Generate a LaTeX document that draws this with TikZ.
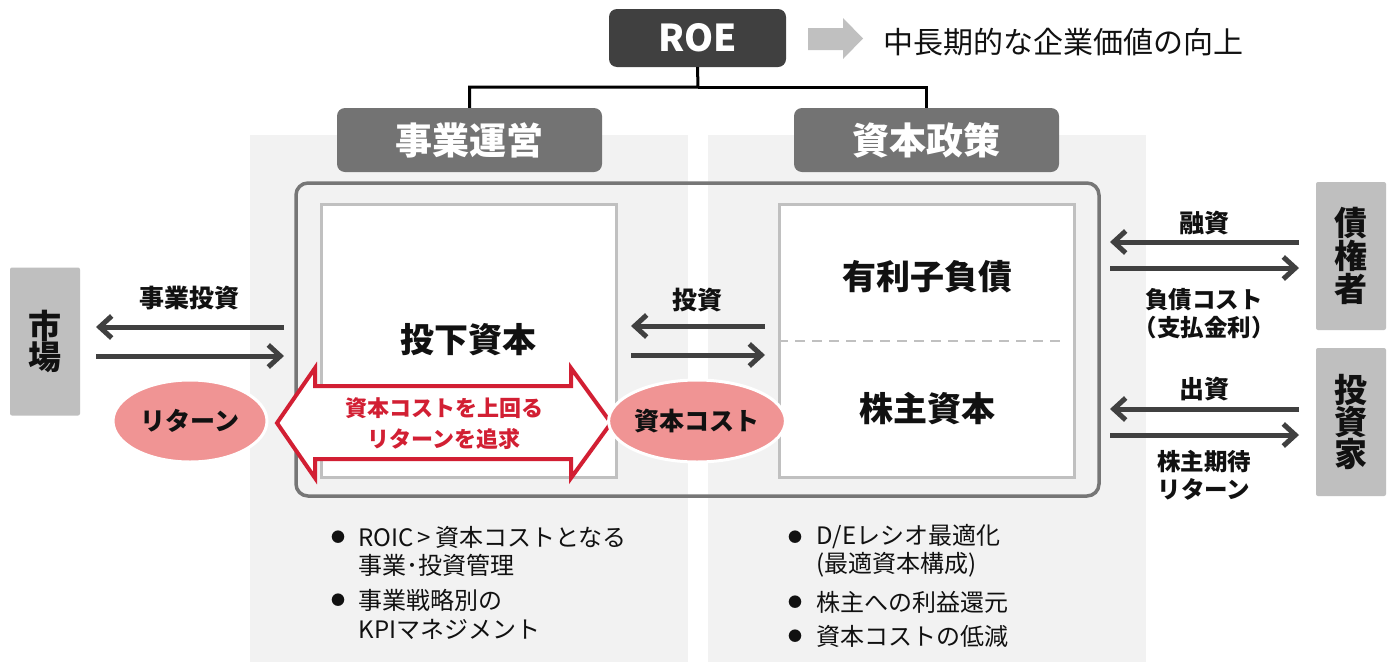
\documentclass[tikz,border=0pt]{standalone}
\usepackage{fontspec}
\setmainfont{Noto Sans CJK JP}
\usetikzlibrary{arrows.meta,shapes.geometric}
\definecolor{roegray}{HTML}{404040}
\definecolor{hdrgray}{HTML}{737373}
\definecolor{boxgray}{HTML}{BFBFBF}
\definecolor{panelgray}{HTML}{F2F2F2}
\definecolor{framegray}{HTML}{767676}
\definecolor{innergray}{HTML}{C0C0C0}
\definecolor{arrowgray}{HTML}{404040}
\definecolor{lightarr}{HTML}{C0C0C0}
\definecolor{pinkfill}{HTML}{F09494}
\definecolor{goalred}{HTML}{D21F33}
\definecolor{txt}{HTML}{111111}
\begin{document}
\begin{tikzpicture}[x=1pt,y=-1pt,
  hdr/.style={fill=hdrgray, rounded corners=8pt, minimum width=265pt, minimum height=64pt, inner sep=0pt, text=white, font=\bfseries\fontsize{37}{40}\selectfont},
  side/.style={fill=boxgray, rounded corners=2pt, minimum width=70pt, minimum height=148pt, inner sep=0pt, align=center, text=txt, font=\bfseries\fontsize{33}{30}\selectfont},
  capbox/.style={draw=innergray, line width=3pt, fill=white, inner sep=0pt, minimum width=295pt, minimum height=273pt},
  big/.style={font=\bfseries\fontsize{34}{38}\selectfont, text=txt},
  lbl/.style={font=\bfseries\fontsize{25}{28}\selectfont, text=txt, align=center},
  flow/.style={draw=arrowgray, line width=5pt, -{Straight Barb[length=12pt,width=22pt]}},
  oval/.style={ellipse, fill=pinkfill, draw=white, line width=3pt, minimum width=154pt, minimum height=82pt, inner sep=0pt, text=txt, font=\bfseries\fontsize{25}{28}\selectfont},
  bul/.style={font=\fontsize{14}{16}\selectfont, text=txt},
  btxt/.style={font=\fontsize{24}{28}\selectfont, text=txt, anchor=west},
  conn/.style={draw=black, line width=3pt}
]
\useasboundingbox (0,0) rectangle (1392,662);
\fill[white] (0,0) rectangle (1392,662);
% panels
\fill[panelgray] (250,135) rectangle (688,662);
\fill[panelgray] (708,135) rectangle (1146,662);

% top
\node[fill=roegray, rounded corners=8pt, minimum width=177pt, minimum height=58pt, inner sep=0pt, text=white, font=\bfseries\fontsize{37}{40}\selectfont] (roe) at (697.5,38) {ROE};
\fill[lightarr] (808,28) -- (843,28) -- (843,18) -- (863,38.5) -- (843,59) -- (843,50) -- (808,50) -- cycle;
\node[font=\fontsize{30}{34}\selectfont, text=txt, anchor=west, inner sep=0pt] (goal) at (883,42) {中長期的な企業価値の向上};

\node[hdr] (ops) at (469.5,140) {事業運営};
\node[hdr] (pol) at (926.5,140) {資本政策};
\coordinate (junction) at (698,87);
\draw[conn] (roe.south) -- (junction) -| (ops.north);
\draw[conn] (junction) -| (pol.north);

% frame
\node[draw=framegray, line width=3.5pt, rounded corners=12pt, minimum width=803pt, minimum height=313pt, inner sep=0pt] (frame) at (697.5,339.5) {};
\node[capbox] (ic) at (468.5,340.5) {};
\node[big] (ictext) at (468.5,340) {投下資本};
\node[capbox] (cap) at (927,340.5) {};
\draw[innergray, line width=2.5pt, dash pattern=on 10pt off 7pt] (cap.west |- 0,341) -- (1062,341);
\node[big] (debt) at (927,277) {有利子負債};
\node[big] (equity) at (927,409) {株主資本};

% red double arrow
\draw[goalred, line width=4pt, fill=white, line join=miter]
  (277,423) -- (315,368) -- (315,386) -- (571,386) -- (571,368) -- (611,423)
  -- (571,478) -- (571,459) -- (315,459) -- (315,478) -- cycle;
\node[text=goalred, align=center, font=\bfseries\fontsize{22}{31}\selectfont] (target) at (444,424) {資本コストを上回る\\リターンを追求};

% ovals
\node[oval] (ret) at (190,421) {リターン};
\node[oval] (coc) at (697,421) {資本コスト};

% market
\node[side] (mkt) at (45,341.5) {市\\場};
\node[lbl] (invl) at (189,298) {事業投資};
\coordinate (mA) at (284,327);
\coordinate (mB) at (96,327);
\coordinate (mC) at (96,356);
\coordinate (mD) at (284,356);
\draw[flow] (mA) -- (mB);
\draw[flow] (mC) -- (mD);

% middle
\node[lbl] (inv2) at (697,300) {投資};
\coordinate (cA) at (765,326);
\coordinate (cB) at (631,326);
\coordinate (cC) at (631,355);
\coordinate (cD) at (765,355);
\draw[flow] (cA) -- (cB);
\draw[flow] (cC) -- (cD);

% creditors / investors
\node[side] (cred) at (1351,256) {債\\権\\者};
\node[side] (inv) at (1351,422) {投\\資\\家};
\node[lbl] (loan) at (1204,223) {融資};
\node[lbl, font=\bfseries\fontsize{23.5}{28}\selectfont] (debtcost) at (1204,314) {負債コスト\\（支払金利）};
\coordinate (rA) at (1299,242);
\coordinate (rB) at (1110,242);
\coordinate (rC) at (1110,268);
\coordinate (rD) at (1299,268);
\draw[flow] (rA) -- (rB);
\draw[flow] (rC) -- (rD);
\node[lbl] (equityin) at (1204,389) {出資};
\node[lbl, font=\bfseries\fontsize{23.5}{28}\selectfont] (eqret) at (1204,475) {株主期待\\リターン};
\coordinate (sA) at (1299,409);
\coordinate (sB) at (1110,409);
\coordinate (sC) at (1110,435);
\coordinate (sD) at (1299,435);
\draw[flow] (sA) -- (sB);
\draw[flow] (sC) -- (sD);

% bullets left
\node[bul] (b1) at (338,537) {●};
\node[btxt] (t1a) at (355,537) {ROIC\,>\,資本コストとなる};
\node[btxt] (t1b) at (355,565) {事業･投資管理};
\node[bul] (b2) at (338,600) {●};
\node[btxt] (t2a) at (355,600) {事業戦略別の};
\node[btxt] (t2b) at (355,629) {KPIマネジメント};

% bullets right
\node[bul] (b3) at (795,537) {●};
\node[btxt] (t3a) at (813,537) {D/Eレシオ最適化};
\node[btxt] (t3b) at (813,565) {(最適資本構成)};
\node[bul] (b4) at (795,602) {●};
\node[btxt] (t4) at (813,602) {株主への利益還元};
\node[bul] (b5) at (795,636) {●};
\node[btxt] (t5) at (813,636) {資本コストの低減};
\end{tikzpicture}
\end{document}
